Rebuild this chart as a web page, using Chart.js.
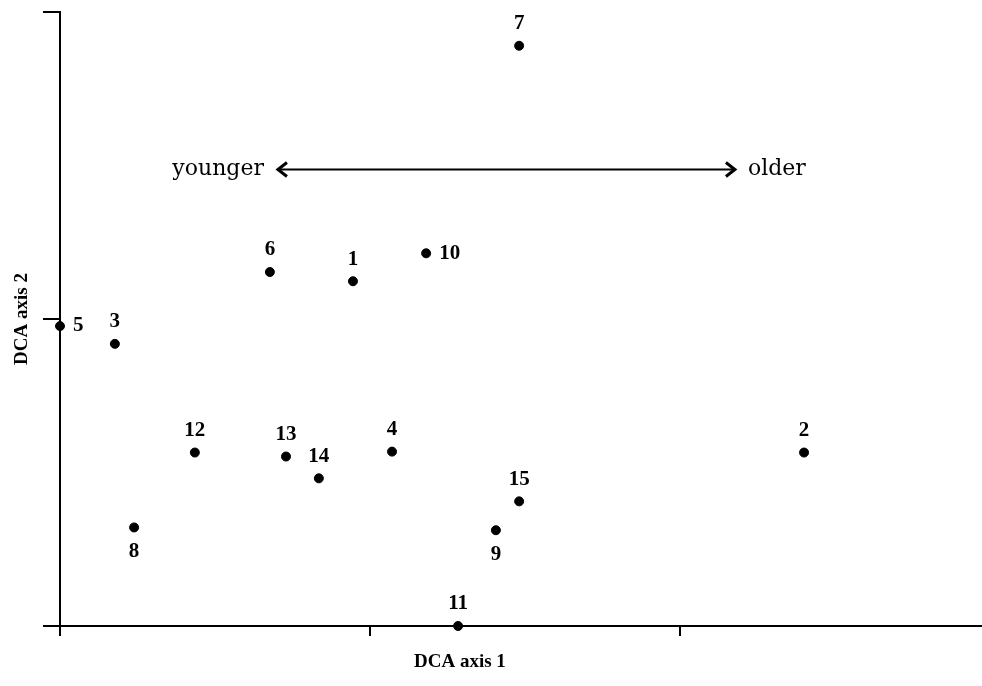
<!DOCTYPE html>
<html>
<head>
<meta charset="utf-8">
<script src="https://cdn.jsdelivr.net/npm/chart.js@4"></script>
<style>
html,body{margin:0;padding:0;background:#fff;}
#wrap{width:982px;height:686px;position:relative;}
</style>
</head>
<body>
<div id="wrap"><canvas id="c" width="982" height="686"></canvas></div>
<script>
// ---- data ----
const siteLabels = ['1','2','3','4','5','6','7','8','9','10','11','12','13','14','15'];
const dcaAxis1 = [0.945, 2.400, 0.177, 1.071, 0.000, 0.677, 1.481, 0.239, 1.406, 1.181, 1.284, 0.435, 0.729, 0.835, 1.481];
const dcaAxis2 = [1.123, 0.565, 0.919, 0.568, 0.977, 1.153, 1.890, 0.321, 0.312, 1.214, 0.000, 0.565, 0.552, 0.481, 0.406];
const xTicks = [0, 1, 2];
const yTicks = [0, 1, 2];
const arrowX = [0.703, 2.177];
const arrowY = 1.487;
const arrowLabels = ['younger', 'older'];
const axisTitles = ['DCA axis 1', 'DCA axis 2'];

// label placement (style only)
const placement = {'5':'right','10':'right','8':'below','9':'below'};

const points = dcaAxis1.map((x, i) => ({x: x, y: dcaAxis2[i]}));

const annot = {
  id: 'annot',
  afterDatasetsDraw(chart) {
    const ctx = chart.ctx;
    const xs = chart.scales.x, ys = chart.scales.y;
    const meta = chart.getDatasetMeta(0);
    ctx.save();
    ctx.fillStyle = '#000';
    ctx.font = 'bold 21px "Liberation Serif"';
    meta.data.forEach((el, i) => {
      const lab = siteLabels[i];
      const p = placement[lab] || 'above';
      if (p === 'above') {
        ctx.textAlign = 'center'; ctx.textBaseline = 'middle';
        ctx.fillText(lab, el.x, el.y - 22);
      } else if (p === 'below') {
        ctx.textAlign = 'center'; ctx.textBaseline = 'middle';
        ctx.fillText(lab, el.x, el.y + 24);
      } else {
        ctx.textAlign = 'left'; ctx.textBaseline = 'middle';
        ctx.fillText(lab, el.x + 13, el.y);
      }
    });
    // arrow
    const x0 = xs.getPixelForValue(arrowX[0]);
    const x1 = xs.getPixelForValue(arrowX[1]);
    const ay = ys.getPixelForValue(arrowY);
    ctx.strokeStyle = '#000';
    ctx.lineWidth = 2;
    ctx.beginPath();
    ctx.moveTo(x0, ay); ctx.lineTo(x1, ay);
    ctx.stroke();
    ctx.lineWidth = 3;
    ctx.beginPath();
    ctx.moveTo(x0 + 9, ay - 7); ctx.lineTo(x0, ay); ctx.lineTo(x0 + 9, ay + 7);
    ctx.moveTo(x1 - 9, ay - 7); ctx.lineTo(x1, ay); ctx.lineTo(x1 - 9, ay + 7);
    ctx.stroke();
    ctx.font = '22px "DejaVu Serif"';
    ctx.textBaseline = 'middle';
    ctx.textAlign = 'right';
    ctx.fillText(arrowLabels[0], x0 - 14, ay);
    ctx.textAlign = 'left';
    ctx.fillText(arrowLabels[1], x1 + 13, ay);
    // axis titles
    ctx.font = 'bold 19px "Liberation Serif"';
    ctx.textAlign = 'center';
    ctx.fillText(axisTitles[0], xs.getPixelForValue(1.29), 662);
    ctx.save();
    ctx.translate(22, (ys.top + ys.bottom) / 2);
    ctx.rotate(-Math.PI / 2);
    ctx.fillText(axisTitles[1], 0, 0);
    ctx.restore();
    ctx.restore();
  }
};

new Chart(document.getElementById('c'), {
  type: 'scatter',
  data: {
    datasets: [{
      data: points,
      backgroundColor: '#000',
      borderColor: '#000',
      pointRadius: 4.5,
      pointHoverRadius: 4.5,
      clip: false
    }]
  },
  options: {
    responsive: false,
    animation: false,
    events: [],
    layout: {autoPadding: false, padding: {top: 12, right: 0, bottom: 0, left: 0}},
    plugins: {legend: {display: false}, tooltip: {enabled: false}},
    scales: {
      x: {
        type: 'linear', min: 0, max: 2.974,
        afterBuildTicks: s => { s.ticks = xTicks.map(v => ({value: v})); },
        afterFit: s => { s.height = 60; },
        ticks: {display: false},
        grid: {drawOnChartArea: false, drawTicks: true, tickLength: 10, color: '#000', lineWidth: 2},
        border: {display: true, color: '#000', width: 2}
      },
      y: {
        type: 'linear', min: 0, max: 2,
        afterBuildTicks: s => { s.ticks = yTicks.map(v => ({value: v})); },
        afterFit: s => { s.width = 60; },
        ticks: {display: false},
        grid: {drawOnChartArea: false, drawTicks: true, tickLength: 17, color: '#000', lineWidth: 2},
        border: {display: true, color: '#000', width: 2}
      }
    }
  },
  plugins: [annot]
});
</script>
</body>
</html>
